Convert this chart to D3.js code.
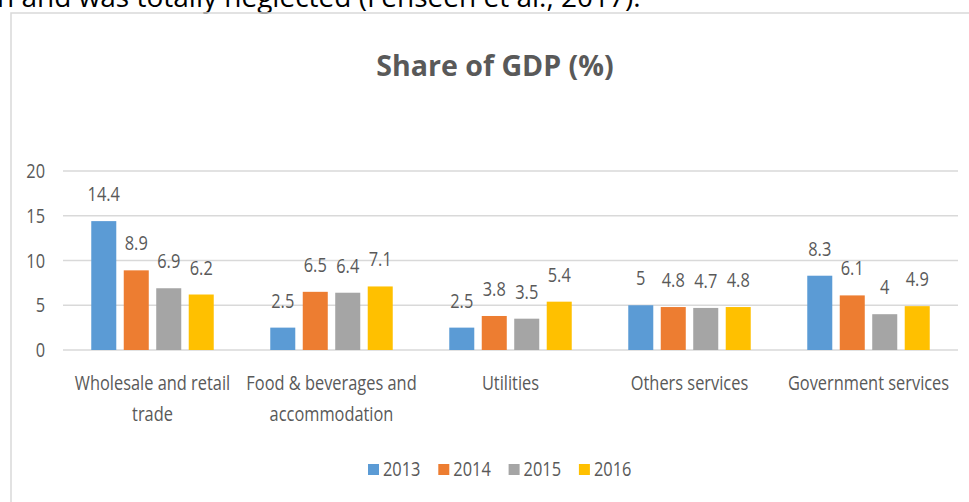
<!DOCTYPE html>
<html>
<head>
<meta charset="utf-8">
<script src="https://cdn.jsdelivr.net/npm/d3@7"></script>
<style>
  html, body { margin: 0; padding: 0; background: #fff; overflow: hidden; }
  text { font-family: "Open Sans", "Noto Sans", sans-serif; }
</style>
</head>
<body>
<div id="chart"></div>
<script>
// data
const categories = ["Wholesale and retail trade", "Food & beverages and accommodation", "Utilities", "Others services", "Government services"];
const categoryLines = [["Wholesale and retail", "trade"], ["Food & beverages and", "accommodation"], ["Utilities"], ["Others services"], ["Government services"]];
const years = ["2013", "2014", "2015", "2016"];
const values2013 = [14.4, 2.5, 2.5, 5, 8.3];
const values2014 = [8.9, 6.5, 3.8, 4.8, 6.1];
const values2015 = [6.9, 6.4, 3.5, 4.7, 4];
const values2016 = [6.2, 7.1, 5.4, 4.8, 4.9];
const yTicks = [0, 5, 10, 15, 20];
const colors = ["#5B9BD5", "#ED7D31", "#A5A5A5", "#FFC000"];

const series = [values2013, values2014, values2015, values2016];

const width = 969, height = 502;
const sx = 0.82; // the text in the picture is squeezed sideways
const textGrey = "#595959";

const svg = d3.select("#chart").append("svg")
  .attr("width", width)
  .attr("height", height);

// helper: squeezed text placed at (x, y)
function addText(parent, x, y, str, size, anchor, opts = {}) {
  return parent.append("text")
    .attr("transform", `translate(${x},${y}) scale(${opts.sx || sx},1)`)
    .attr("text-anchor", anchor)
    .attr("font-size", size)
    .attr("font-weight", opts.weight || "normal")
    .attr("fill", opts.fill || textGrey)
    .text(str);
}

// bit of body text above the chart, cut off by the page
addText(svg, -3, 7, "n and was totally neglected (Fenseen et al., 2017).", 28, "start", { fill: "#000", sx: 1 });

// chart frame
svg.append("rect")
  .attr("x", 11).attr("y", 13)
  .attr("width", width + 20).attr("height", height + 20)
  .attr("fill", "none")
  .attr("stroke", "#d9d9d9")
  .attr("stroke-width", 1.5);

// title
addText(svg, 495, 76, "Share of GDP (%)", 28, "middle", { weight: "bold", sx: 1.02 });

// scales
const x0 = d3.scaleBand()
  .domain(categories)
  .range([63, 958]);

const x1 = d3.scaleBand()
  .domain(years)
  .range([0, x0.bandwidth()])
  .paddingInner(0.23)
  .paddingOuter(0.87);

const y = d3.scaleLinear()
  .domain([0, 20])
  .range([350, 171]);

// gridlines
svg.append("g")
  .selectAll("line")
  .data(yTicks)
  .join("line")
  .attr("x1", 63).attr("x2", 958)
  .attr("y1", d => y(d)).attr("y2", d => y(d))
  .attr("stroke", "#d9d9d9")
  .attr("stroke-width", 1.5);

// y labels
const yLab = svg.append("g");
yTicks.forEach(t => addText(yLab, 45, y(t) + 7, String(t), 20, "end"));

// bars + value labels
const groups = svg.append("g")
  .selectAll("g")
  .data(categories)
  .join("g")
  .attr("transform", d => `translate(${x0(d)},0)`);

groups.each(function(cat, ci) {
  const g = d3.select(this);
  years.forEach((yr, si) => {
    const v = series[si][ci];
    g.append("rect")
      .attr("x", x1(yr))
      .attr("y", y(v))
      .attr("width", x1.bandwidth())
      .attr("height", y(0) - y(v))
      .attr("fill", colors[si]);
    addText(g, x1(yr) + x1.bandwidth() / 2, y(v) - 20, String(v), 20, "middle");
  });
});

// category labels
const catLab = svg.append("g");
categories.forEach((c, i) => {
  const cx = x0(c) + x0.bandwidth() / 2;
  categoryLines[i].forEach((line, li) => {
    addText(catLab, cx, 390 + li * 31, line, 20, "middle");
  });
});

// legend
const legend = svg.append("g")
  .attr("transform", "translate(368, 464)");
years.forEach((yr, i) => {
  const lg = legend.append("g").attr("transform", `translate(${i * 70.3},0)`);
  lg.append("rect")
    .attr("width", 11).attr("height", 11)
    .attr("fill", colors[i]);
  addText(lg, 15, 12, yr, 20, "start");
});
</script>
</body>
</html>
